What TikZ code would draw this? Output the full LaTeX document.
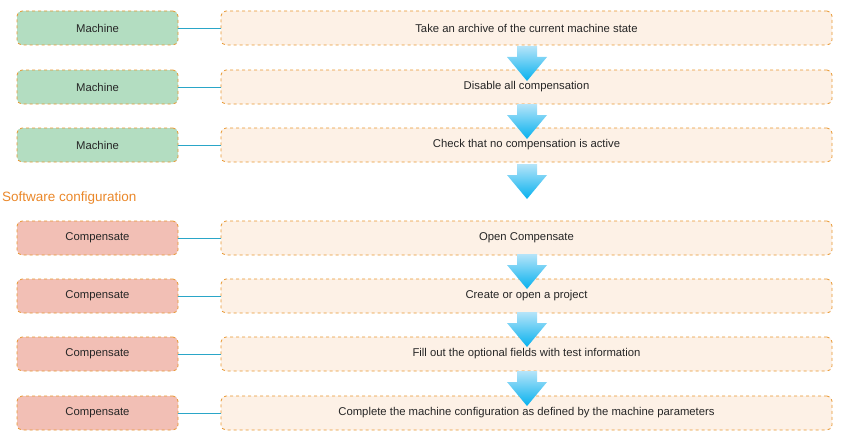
\documentclass[tikz,border=0pt]{standalone}
\usepackage{fontspec}
\setmainfont{Liberation Sans}
\definecolor{grn}{HTML}{B3DDC1}
\definecolor{pnk}{HTML}{F2BFB5}
\definecolor{crm}{HTML}{FDF1E6}
\definecolor{org}{HTML}{E8962E}
\definecolor{lnk}{HTML}{2AA6C8}
\definecolor{atop}{HTML}{B5E4F9}
\definecolor{abot}{HTML}{06B1EE}
\tikzset{x=1pt,y=-1pt,
 base/.style={draw=org,dashed,line width=0.8pt,rounded corners=5pt,minimum height=34pt,font=\fontsize{11.3}{13}\selectfont,text=black!85},
 lbox/.style={base,minimum width=161pt},
 mach/.style={lbox,fill=grn},
 comp/.style={lbox,fill=pnk},
 rbox/.style={base,fill=crm,minimum width=611pt},
 link/.style={draw=lnk,line width=0.9pt},
 flow/.style={top color=atop,bottom color=abot}}
\begin{document}
\begin{tikzpicture}
\useasboundingbox (0,0) rectangle (848,444);
\foreach \i/\y/\s/\t in {1/28/mach/Take an archive of the current machine state,
 2/87/mach/Disable all compensation,
 3/145/mach/Check that no compensation is active,
 4/238/comp/Open Compensate,
 5/296/comp/Create or open a project,
 6/354/comp/Fill out the optional fields with test information,
 7/413/comp/Complete the machine configuration as defined by the machine parameters}{
 \node[\s] (l\i) at (97.5,\y) {\ifnum\i<4 Machine\else Compensate\fi};
 \node[rbox] (r\i) at (526.5,\y) {\t};
 \draw[link] (l\i) -- (r\i);
}
\foreach \y in {46,104,164,254,312,371}{
 \shade[flow] (517,\y) -- (537,\y) -- (537,\y+11) -- (547,\y+11) -- (527,\y+35) -- (507,\y+11) -- (517,\y+11) -- cycle;}
\node[anchor=west,inner sep=0pt,text=org!90!red,font=\fontsize{13.5}{15}\selectfont] (sc) at (2,198) {Software configuration};
\end{tikzpicture}
\end{document}
